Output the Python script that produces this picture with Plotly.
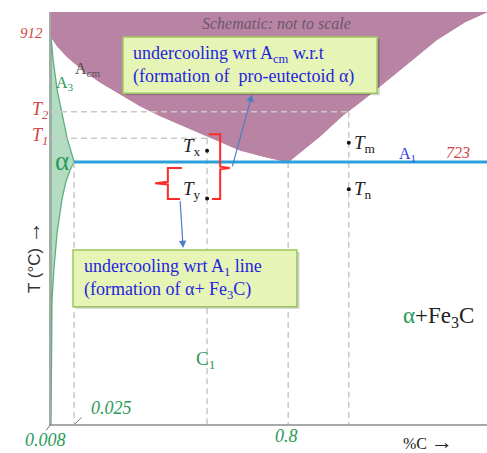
import plotly.graph_objects as go

# ---- schematic data (x: schematic composition position 0-100, y: temperature °C, schematic) ----
X_MIN, X_MAX = 0.0, 100.0
Y_MIN, Y_MAX = 326.9, 949.8

T_A3_TOP = 912
T_A1 = 723
T2_level = 799
T1_level = 759

x_0025 = 5.3
x_tx = 35.8
x_eut = 54.4
x_tm = 68.3

# Acm boundary (left side of the mauve field)
acm_x = [0, 1.6, 3.7, 7.3, 11.2, 15.8, 20.4, 25.0, 29.6, 35.8, 43.3, 49.1, 54.4]
acm_y = [912, 897, 882, 862, 844, 826, 808, 793, 779, 762, 741, 731, 723]
# right (hypereutectoid) boundary of the mauve field
hyper_x = [54.4, 61.7, 67.0, 71.6, 80.0, 88.5, 95.0, 100]
hyper_y = [723, 762, 794, 817, 862, 908, 935, 950]
# A3 line and ferrite solvus
a3_x = [0, 0.5, 1.4, 2.5, 3.7, 5.3]
a3_y = [912, 877, 832, 799, 759, 723]
solvus_x = [5.3, 4.4, 3.4, 2.5, 1.4, 0.7, 0.23, 0.11, 0]
solvus_y = [723, 711, 693, 666, 616, 564, 514, 439, 327]

# marked temperatures
pts_names = ["x", "y", "m", "n"]
pts_x = [x_tx, x_tx, x_tm, x_tm]
pts_y = [740, 668, 752, 682]

# brackets
rbr_x = [36.2, 38.8, 38.8, 41.0, 38.8, 38.8, 36.9]
rbr_y = [765, 765, 716, 714, 712, 667, 667]
lbr_x = [30.0, 26.8, 26.8, 23.9, 26.8, 26.8, 29.6]
lbr_y = [714, 714, 693, 691, 689, 667, 667]

SERIF = "Liberation Serif"
RED = "#d04545"
GREEN = "#2a9a58"
BLUE_TXT = "#2424e0"
MAUVE = "#b984a4"
GRID = "#c9c9c9"

fig = go.Figure()

# mauve field
fig.add_trace(go.Scatter(
    x=[0, 100] + hyper_x[::-1] + acm_x[::-1][1:] + [0],
    y=[Y_MAX, Y_MAX] + hyper_y[::-1] + acm_y[::-1][1:] + [Y_MAX],
    fill="toself", fillcolor=MAUVE, line=dict(color="#b580a0", width=1),
    mode="lines", hoverinfo="skip", showlegend=False))

# green alpha field
fig.add_trace(go.Scatter(
    x=a3_x + solvus_x[1:] + [0],
    y=a3_y + solvus_y[1:] + [T_A3_TOP],
    fill="toself", fillcolor="#b3dcc3", line=dict(color="#5fae80", width=1.3),
    mode="lines", hoverinfo="skip", showlegend=False))

# dashed guide lines
dash = dict(color=GRID, width=1.5, dash="6px,4px")
for xs, ys in [
    ([0, x_tm], [T2_level, T2_level]),
    ([0, x_tx], [T1_level, T1_level]),
    ([x_0025, x_0025], [T_A1, Y_MIN]),
    ([x_tx, x_tx], [T1_level, Y_MIN]),
    ([x_eut, x_eut], [T_A1, Y_MIN]),
    ([x_tm, x_tm], [T2_level, Y_MIN]),
]:
    fig.add_trace(go.Scatter(x=xs, y=ys, mode="lines", line=dash,
                             hoverinfo="skip", showlegend=False))

# A1 line
fig.add_trace(go.Scatter(x=[x_0025, 100], y=[T_A1, T_A1], mode="lines",
                         line=dict(color="#2ba0da", width=3),
                         hoverinfo="skip", showlegend=False))

# brackets
for bx, by in [(rbr_x, rbr_y), (lbr_x, lbr_y)]:
    fig.add_trace(go.Scatter(x=bx, y=by, mode="lines",
                             line=dict(color="#ff2a2a", width=2),
                             hoverinfo="skip", showlegend=False))

# points
fig.add_trace(go.Scatter(x=pts_x, y=pts_y, mode="markers",
                         marker=dict(color="#111", size=4),
                         hoverinfo="skip", showlegend=False))

# boxes (shadow + box)
boxes = [
    (16.5, 74.8, 912, 827),
    (5.05, 56.4, 590, 504),
]
for x0, x1, y1, y0 in boxes:
    fig.add_shape(type="rect", xref="x", yref="y", x0=x0 + 0.6, x1=x1 + 0.6,
                  y0=y0 - 3, y1=y1 - 3, fillcolor="rgba(0,0,0,0.18)",
                  line=dict(width=0))
    fig.add_shape(type="rect", xref="x", yref="y", x0=x0, x1=x1, y0=y0, y1=y1,
                  fillcolor="#e6f5b6", line=dict(color="#9cc65c", width=1.5))

ann = []


def to_paper(x, y):
    return (x - X_MIN) / (X_MAX - X_MIN), (y - Y_MIN) / (Y_MAX - Y_MIN)


def label(x, y, text, size, color, italic=False, xanchor="center",
          family=SERIF, angle=0, align="center"):
    if italic:
        text = "<i>" + text + "</i>"
    px, py = to_paper(x, y)
    ann.append(dict(x=px, y=py, xref="paper", yref="paper", text=text,
                    showarrow=False, xanchor=xanchor, yanchor="middle",
                    textangle=angle, align=align,
                    font=dict(family=family, size=size, color=color)))


ARROW_BIG = "<span style='font-size:22px'>→</span>"

label(51.8, 933, "Schematic: not to scale", 16, "#6b5868", italic=True)
label(-4.4, 918, "912", 15, RED, italic=True)
label(-2.5, 801, "T<sub>2</sub>", 18, RED, italic=True)
label(-2.5, 761, "T<sub>1</sub>", 18, RED, italic=True)
label(2.5, 724, "α", 27, GREEN)
label(8.5, 863, "A<sub>cm</sub>", 16, "#5a4a56")
label(3.3, 841, "A<sub>3</sub>", 16, GREEN)
label(81.7, 734, "A<sub>1</sub>", 16, "#3042dc")
label(93.4, 738, "723", 16, RED, italic=True)
label(34.9, 746, "<i>T</i><sub>x</sub>", 19, "#222", xanchor="right")
label(34.9, 680, "<i>T</i><sub>y</sub>", 19, "#222", xanchor="right")
label(69.0, 750, "<i>T</i><sub>m</sub>", 19, "#222", xanchor="left")
label(69.0, 680, "<i>T</i><sub>n</sub>", 19, "#222", xanchor="left")
label(35.5, 424, "C<sub>1</sub>", 19, GREEN)
label(88.8, 489, "<span style='color:%s'>α</span>+Fe<sub>3</sub>C" % GREEN, 23, "#222")
label(13.8, 351, "0.025", 18, GREEN, italic=True)
label(-1.2, 303, "0.008", 18, GREEN, italic=True)
label(54.1, 309, "0.8", 18, GREEN, italic=True)
label(86.5, 300, "%C " + ARROW_BIG, 16, "#222")
label(-4.4, 579, "T (°C) " + ARROW_BIG, 17, "#333", family="Liberation Sans", angle=-90)
label(18.3, 870,
      "undercooling wrt A<sub>cm</sub> w.r.t<br>(formation of  pro-eutectoid α)",
      18, BLUE_TXT, xanchor="left", align="left")
label(7.1, 546,
      "undercooling wrt A<sub>1</sub> line<br>(formation of α+ Fe<sub>3</sub>C)",
      18, BLUE_TXT, xanchor="left", align="left")

# arrows (data coordinates, inside plot)
arrows = [
    ((46.1, 825), (41.5, 714)),
    ((30.3, 593), (29.6, 666)),
]
for (hx, hy), (tx, ty) in arrows:
    ann.append(dict(x=hx, y=hy, ax=tx, ay=ty, xref="x", yref="y",
                    axref="x", ayref="y", text="", showarrow=True,
                    arrowhead=2, arrowsize=1.2, arrowwidth=1.2,
                    arrowcolor="#4d7cc6"))

# leader lines from tick labels to the axis (pixel offsets)
leaders = [((5.5, 327), (8, -8)), ((0.0, 327), (-6, 8))]
for (lx, ly), (dx, dy) in leaders:
    px, py = to_paper(lx, ly)
    ann.append(dict(x=px, y=py, xref="paper", yref="paper", ax=dx, ay=dy,
                    text="", showarrow=True, arrowhead=0, arrowwidth=1,
                    arrowcolor="#777"))

fig.update_layout(
    width=487, height=453,
    margin=dict(l=51, r=0, t=12, b=29),
    paper_bgcolor="white", plot_bgcolor="white",
    annotations=ann,
    xaxis=dict(range=[X_MIN, X_MAX], showgrid=False, zeroline=False,
               showticklabels=False, ticks="", showline=True,
               linecolor="#a8a8a8", linewidth=2, fixedrange=True),
    yaxis=dict(range=[Y_MIN, Y_MAX], showgrid=False, zeroline=False,
               showticklabels=False, ticks="", showline=True,
               linecolor="#a8a8a8", linewidth=2, fixedrange=True),
)

fig.write_html("out.html", config={"displayModeBar": False},
               post_script="document.body.style.margin='0px';")
